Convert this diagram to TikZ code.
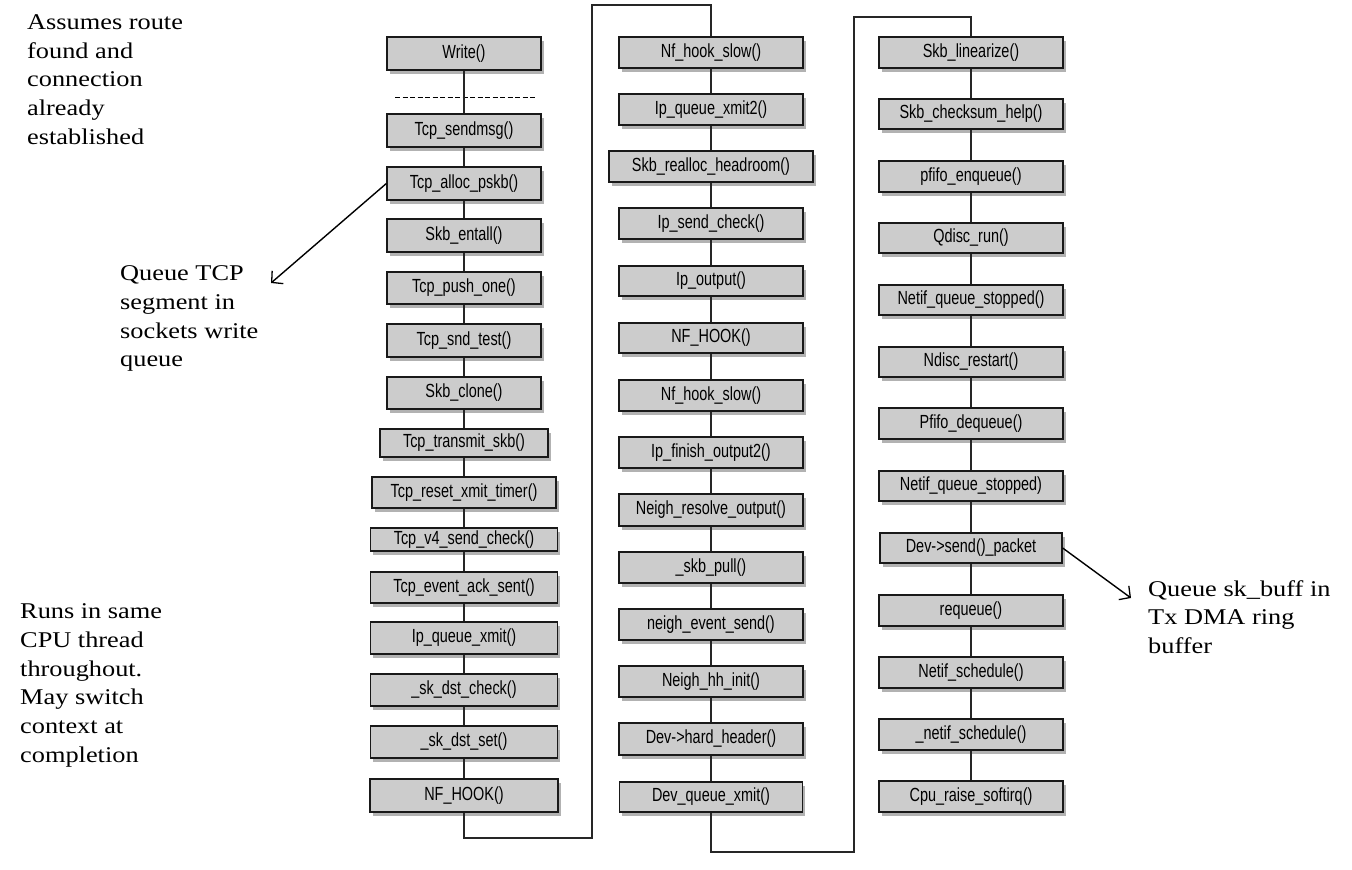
\documentclass[tikz,border=0pt]{standalone}
\usepackage{fontspec}
\setmainfont{Liberation Serif}[FakeStretch=1.17]
\newfontfamily\boxfont{Liberation Sans}[FakeStretch=0.76]
\usepackage{tikz}
\usetikzlibrary{arrows.meta,shadows}
\definecolor{boxgray}{gray}{0.8}

\begin{document}
\begin{tikzpicture}[
  x=1pt,y=-1pt,
  call/.style={draw=black!90, line width=1.3pt, fill=boxgray, minimum width=154pt, minimum height=33pt, inner sep=0pt,
    font={\boxfont\fontsize{19}{21}\selectfont},
    drop shadow={shadow xshift=2.5pt, shadow yshift=-3.5pt, opacity=0.3, fill=black}},
  wire/.style={draw=black!85, line width=1.2pt},
  note/.style={font={\fontsize{22.5}{28.7}\selectfont}, align=left, inner sep=0pt, anchor=north west},
  pointer/.style={-{Straight Barb[length=8pt,width=17pt,line width=1.3pt]}, draw=black, line width=1.4pt}
]
  \useasboundingbox (0,0) rectangle (1352,870);

  % tcp side
  \node[call] (t1) at (464,53.5) {Write()};
  \node[call] (t2) at (464,130.5) {Tcp\_sendmsg()};
  \node[call] (t3) at (464,183.5) {Tcp\_alloc\_pskb()};
  \node[call] (t4) at (464,235.5) {Skb\_entall()};
  \node[call, minimum height=32pt] (t5) at (464,288) {Tcp\_push\_one()};
  \node[call] (t6) at (464,340.5) {Tcp\_snd\_test()};
  \node[call, minimum height=32pt] (t7) at (464,393) {Skb\_clone()};
  \node[call, minimum width=168pt, minimum height=28pt] (t8) at (464,443) {Tcp\_transmit\_skb()};
  \node[call, minimum width=184pt, minimum height=31pt] (t9) at (464,492.5) {Tcp\_reset\_xmit\_timer()};
  \node[call, minimum width=187pt, minimum height=23pt] (t10) at (464,539.5) {Tcp\_v4\_send\_check()};
  \node[call, minimum width=187pt, minimum height=31pt] (t11) at (464,587.5) {Tcp\_event\_ack\_sent()};
  \node[call, minimum width=187pt, minimum height=32pt] (t12) at (464,638) {Ip\_queue\_xmit()};
  \node[call, minimum width=187pt, minimum height=32pt] (t13) at (464,690) {\_sk\_dst\_check()};
  \node[call, minimum width=187pt, minimum height=32pt] (t14) at (464,742) {\_sk\_dst\_set()};
  \node[call, minimum width=188pt] (t15) at (464,795.5) {NF\_HOOK()};
  \draw[dashed, dash pattern=on 5pt off 2.5pt, line width=0.9pt] (395,97) -- (537,97);

  % ip side
  \node[call, minimum width=184pt, minimum height=31pt] (p1) at (711,52.5) {Nf\_hook\_slow()};
  \node[call, minimum width=184pt, minimum height=31pt] (p2) at (711,109.5) {Ip\_queue\_xmit2()};
  \node[call, minimum width=204pt, minimum height=31pt] (p3) at (711,166.5) {Skb\_realloc\_headroom()};
  \node[call, minimum width=184pt, minimum height=31pt] (p4) at (711,223.5) {Ip\_send\_check()};
  \node[call, minimum width=184pt, minimum height=30pt] (p5) at (711,281) {Ip\_output()};
  \node[call, minimum width=184pt, minimum height=30pt] (p6) at (711,338) {NF\_HOOK()};
  \node[call, minimum width=184pt, minimum height=31pt] (p7) at (711,395.5) {Nf\_hook\_slow()};
  \node[call, minimum width=184pt, minimum height=31pt] (p8) at (711,452.5) {Ip\_finish\_output2()};
  \node[call, minimum width=184pt, minimum height=32pt] (p9) at (711,510) {Neigh\_resolve\_output()};
  \node[call, minimum width=184pt, minimum height=31pt] (p10) at (711,567.5) {\_skb\_pull()};
  \node[call, minimum width=184pt, minimum height=31pt] (p11) at (711,624.5) {neigh\_event\_send()};
  \node[call, minimum width=184pt, minimum height=31pt] (p12) at (711,681.5) {Neigh\_hh\_init()};
  \node[call, minimum width=184pt, minimum height=32pt] (p13) at (711,739) {Dev->hard\_header()};
  \node[call, minimum width=183pt, minimum height=30pt] (p14) at (711,797) {Dev\_queue\_xmit()};

  % device side
  \node[call, minimum width=184pt, minimum height=31pt] (d1) at (971,52.5) {Skb\_linearize()};
  \node[call, minimum width=184pt, minimum height=30pt] (d2) at (971,114) {Skb\_checksum\_help()};
  \node[call, minimum width=184pt, minimum height=31pt] (d3) at (971,176.5) {pfifo\_enqueue()};
  \node[call, minimum width=184pt, minimum height=30pt] (d4) at (971,238) {Qdisc\_run()};
  \node[call, minimum width=184pt, minimum height=30pt] (d5) at (971,300) {Netif\_queue\_stopped()};
  \node[call, minimum width=184pt, minimum height=30pt] (d6) at (971,362) {Ndisc\_restart()};
  \node[call, minimum width=184pt, minimum height=31pt] (d7) at (971,423.5) {Pfifo\_dequeue()};
  \node[call, minimum width=184pt, minimum height=30pt] (d8) at (971,486) {Netif\_queue\_stopped)};
  \node[call, minimum width=182pt, minimum height=30pt] (d9) at (971,548) {Dev->send()\_packet};
  \node[call, minimum width=184pt, minimum height=31pt] (d10) at (971,610.5) {requeue()};
  \node[call, minimum width=184pt, minimum height=31pt] (d11) at (971,672.5) {Netif\_schedule()};
  \node[call, minimum width=184pt, minimum height=31pt] (d12) at (971,734.5) {\_netif\_schedule()};
  \node[call, minimum width=184pt, minimum height=31pt] (d13) at (971,796.5) {Cpu\_raise\_softirq()};

  % call chain
  \foreach \u/\v in {t1/t2,t2/t3,t3/t4,t4/t5,t5/t6,t6/t7,t7/t8,t8/t9,t9/t10,t10/t11,t11/t12,t12/t13,t13/t14,t14/t15,
      p1/p2,p2/p3,p3/p4,p4/p5,p5/p6,p6/p7,p7/p8,p8/p9,p9/p10,p10/p11,p11/p12,p12/p13,p13/p14,
      d1/d2,d2/d3,d3/d4,d4/d5,d5/d6,d6/d7,d7/d8,d8/d9,d9/d10,d10/d11,d11/d12,d12/d13}
    \draw[wire] (\u) -- (\v);
  \draw[wire] (t15) |- (592,838) -- (592,5) -| (p1);
  \draw[wire] (p14) |- (854,852) -- (854,17) -| (d1);

  % notes
  \node[note] (route) at (27,14.5) {Assumes route\\found and\\connection\\already\\established};
  \node[note] (wqueue) at (120,265.5) {Queue TCP\\segment in\\sockets write\\queue};
  \node[note] (cpu) at (20,603.5) {Runs in same\\CPU thread\\throughout.\\May switch\\context at\\completion};
  \node[note] (ring) at (1148,580) {Queue sk\_buff in\\Tx DMA ring\\buffer};
  \coordinate (wqend) at (271,283);
  \coordinate (ringend) at (1131,598);
  \draw[pointer] (t3.west) -- (wqend);
  \draw[pointer] (d9.east) -- (ringend);
\end{tikzpicture}
\end{document}
